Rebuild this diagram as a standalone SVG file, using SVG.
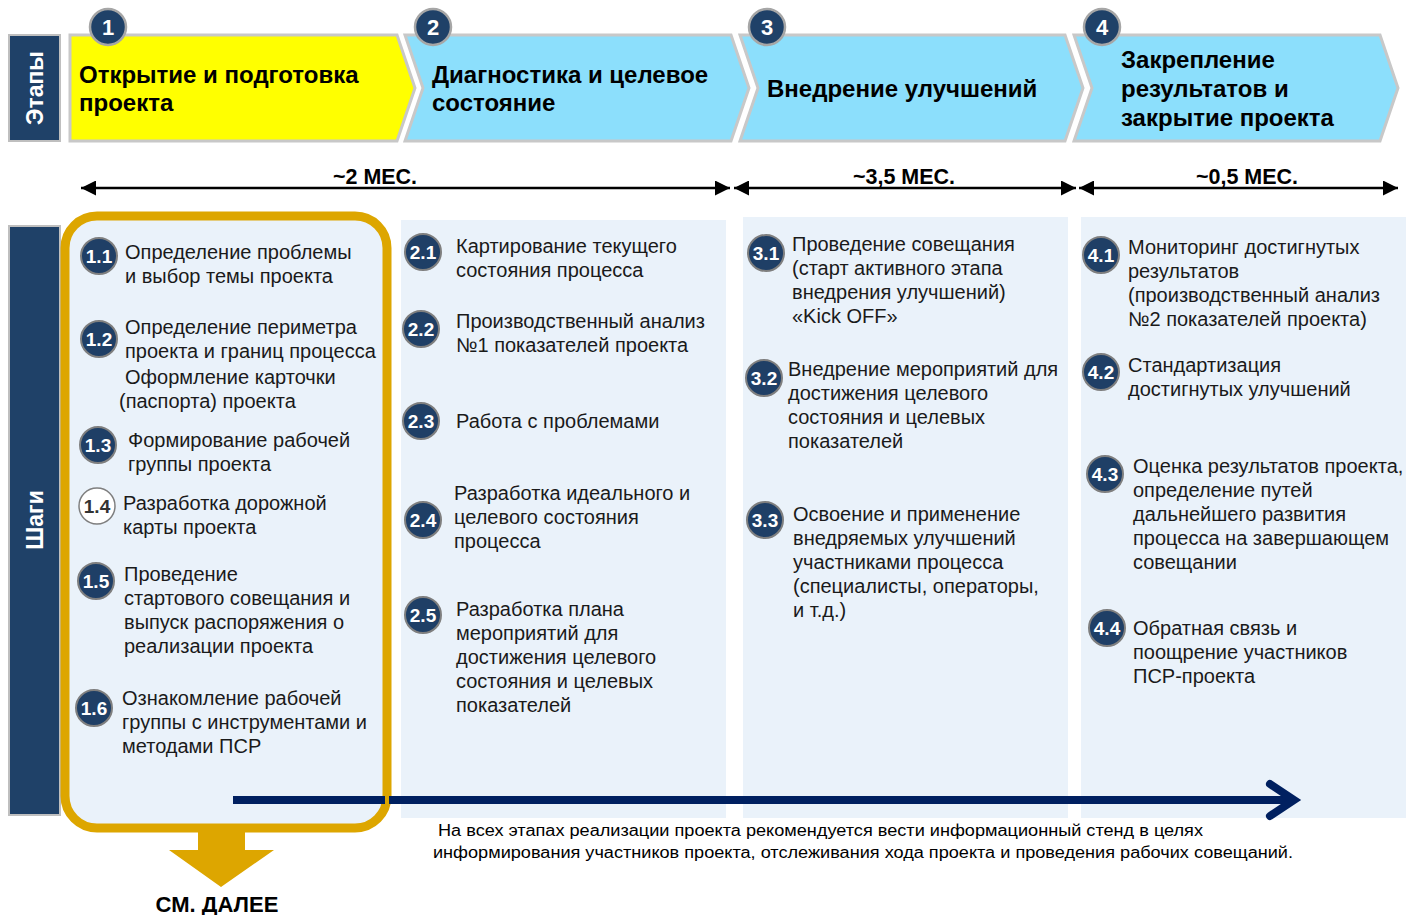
<svg xmlns="http://www.w3.org/2000/svg" width="1410" height="915" viewBox="0 0 1410 915">
<defs>
<style>
.lbl{fill:#1F4168;stroke:#BFBFBF;stroke-width:2}
.lt{font-family:"Liberation Sans",Arial,sans-serif;font-weight:bold;font-size:23px;fill:#fff}
.chev{stroke:#C8C8C8;stroke-width:3}
.num{fill:#1F4168;stroke:#A6A6A6;stroke-width:2.5}
.numt{font-family:"Liberation Sans",Arial,sans-serif;font-weight:bold;font-size:22px;fill:#fff;text-anchor:middle}
.st{font-family:"Liberation Sans",Arial,sans-serif;font-weight:bold;font-size:24px;fill:#000}
.dur{font-family:"Liberation Sans",Arial,sans-serif;font-weight:bold;font-size:22px;fill:#000;text-anchor:middle}
.col{fill:#EAF2FA}
.sc{fill:#1F3F66;stroke:#7F7F7F;stroke-width:2}
.sct{font-family:"Liberation Sans",Arial,sans-serif;font-weight:bold;font-size:19px;fill:#fff;text-anchor:middle}
.tx{font-family:"Liberation Sans",Arial,sans-serif;font-size:20px;fill:#1a1a1a}
.foot{font-family:"Liberation Sans",Arial,sans-serif;font-size:16px;fill:#000}
</style>
<marker id="ah" viewBox="0 0 10 10" refX="10" refY="5" markerWidth="6" markerHeight="6" orient="auto-start-reverse" markerUnits="strokeWidth">
<path d="M0,0 L10,5 L0,10 z" fill="#000"/>
</marker>
</defs>
<rect width="1410" height="915" fill="#fff"/>

<g id="label-etapy">
<rect class="lbl" x="9" y="35" width="51" height="106"/>
<text class="lt" transform="translate(43,88) rotate(-90)" text-anchor="middle">Этапы</text>
</g>
<g id="label-shagi">
<rect class="lbl" x="9" y="226" width="51" height="589"/>
<text class="lt" transform="translate(43,520) rotate(-90)" text-anchor="middle">Шаги</text>
</g>

<g id="columns">
<rect class="col" x="401" y="220" width="325" height="598"/>
<rect class="col" x="743" y="217" width="325" height="601"/>
<rect class="col" x="1081" y="217" width="325" height="601"/>
</g>

<g id="stage1">
<path class="chev" d="M70,35 L397,35 L415,88 L397,141 L70,141 Z" fill="#FFFF00"/>
<circle class="num" cx="108" cy="27" r="18"/>
<text class="numt" x="108" y="35">1</text>
<text class="st" x="79" y="83">Открытие и подготовка</text>
<text class="st" x="79" y="111">проекта</text>
</g>
<g id="stage2">
<path class="chev" d="M405,35 L731,35 L749,88 L731,141 L405,141 L423,88 Z" fill="#8CDFFC"/>
<circle class="num" cx="433" cy="27" r="18"/>
<text class="numt" x="433" y="35">2</text>
<text class="st" x="432" y="83">Диагностика и целевое</text>
<text class="st" x="432" y="111">состояние</text>
</g>
<g id="stage3">
<path class="chev" d="M740,35 L1065,35 L1083,88 L1065,141 L740,141 L758,88 Z" fill="#8CDFFC"/>
<circle class="num" cx="767" cy="27" r="18"/>
<text class="numt" x="767" y="35">3</text>
<text class="st" x="767" y="97">Внедрение улучшений</text>
</g>
<g id="stage4">
<path class="chev" d="M1074,35 L1380,35 L1398,88 L1380,141 L1074,141 L1092,88 Z" fill="#8CDFFC"/>
<circle class="num" cx="1102" cy="27" r="18"/>
<text class="numt" x="1102" y="35">4</text>
<text class="st" x="1121" y="68">Закрепление</text>
<text class="st" x="1121" y="97">результатов и</text>
<text class="st" x="1121" y="126">закрытие проекта</text>
</g>

<g id="connectors">
<line x1="81" y1="188" x2="730" y2="188" stroke="#000" stroke-width="2.5" marker-start="url(#ah)" marker-end="url(#ah)"/>
<line x1="734" y1="188" x2="1076" y2="188" stroke="#000" stroke-width="2.5" marker-start="url(#ah)" marker-end="url(#ah)"/>
<line x1="1079" y1="188" x2="1398" y2="188" stroke="#000" stroke-width="2.5" marker-start="url(#ah)" marker-end="url(#ah)"/>
</g>
<g id="durations">
<text class="dur" x="375" y="184" textLength="84" lengthAdjust="spacingAndGlyphs">~2 МЕС.</text>
<text class="dur" x="904" y="184" textLength="102" lengthAdjust="spacingAndGlyphs">~3,5 МЕС.</text>
<text class="dur" x="1247" y="184" textLength="102" lengthAdjust="spacingAndGlyphs">~0,5 МЕС.</text>
</g>

<g id="phase1-frame">
<rect x="65" y="216" width="322" height="612" rx="32" fill="#EAF2FA" stroke="#DDA600" stroke-width="9"/>
</g>

<g id="main-arrow">
<line x1="233" y1="800" x2="1292" y2="800" stroke="#002060" stroke-width="8"/>
<path d="M1270,784 L1294,800 L1270,816" fill="none" stroke="#002060" stroke-width="8" stroke-linecap="round" stroke-linejoin="miter"/>
</g>
<rect x="385" y="795" width="4" height="10" fill="#DDA600"/>

<g id="see-next">
<path d="M198,832 L245,832 L245,850 L274,850 L221,887 L169,850 L198,850 Z" fill="#DDA600"/>
<text x="217" y="912" font-family="'Liberation Sans',Arial,sans-serif" font-weight="bold" font-size="22" text-anchor="middle" fill="#000">СМ. ДАЛЕЕ</text>
</g>

<g id="step-1-1"><circle class="sc" cx="99" cy="256" r="18"/><text class="sct" x="99" y="263">1.1</text>
<text class="tx" x="125" y="259">Определение проблемы</text><text class="tx" x="125" y="283">и выбор темы проекта</text></g>
<g id="step-1-2"><circle class="sc" cx="99" cy="339" r="18"/><text class="sct" x="99" y="346">1.2</text>
<text class="tx" x="125" y="334">Определение периметра</text><text class="tx" x="125" y="358">проекта и границ процесса</text>
<text class="tx" x="125" y="384">Оформление карточки</text><text class="tx" x="119" y="408">(паспорта) проекта</text></g>
<g id="step-1-3"><circle class="sc" cx="98" cy="445" r="18"/><text class="sct" x="98" y="452">1.3</text>
<text class="tx" x="128" y="447">Формирование рабочей</text><text class="tx" x="128" y="471">группы проекта</text></g>
<g id="step-1-4"><circle cx="97" cy="506" r="18" fill="#fff" stroke="#7F7F7F" stroke-width="1.5"/><text class="sct" x="97" y="513" style="fill:#333">1.4</text>
<text class="tx" x="123" y="510">Разработка дорожной</text><text class="tx" x="123" y="534">карты проекта</text></g>
<g id="step-1-5"><circle class="sc" cx="96" cy="581" r="18"/><text class="sct" x="96" y="588">1.5</text>
<text class="tx" x="124" y="581">Проведение</text><text class="tx" x="124" y="605">стартового совещания и</text>
<text class="tx" x="124" y="629">выпуск распоряжения о</text><text class="tx" x="124" y="653">реализации проекта</text></g>
<g id="step-1-6"><circle class="sc" cx="94" cy="708" r="18"/><text class="sct" x="94" y="715">1.6</text>
<text class="tx" x="122" y="705">Ознакомление рабочей</text><text class="tx" x="122" y="729">группы с инструментами и</text>
<text class="tx" x="122" y="753">методами ПСР</text></g>

<g id="step-2-1"><circle class="sc" cx="423" cy="252" r="18"/><text class="sct" x="423" y="259">2.1</text>
<text class="tx" x="456" y="253">Картирование текущего</text><text class="tx" x="456" y="277">состояния процесса</text></g>
<g id="step-2-2"><circle class="sc" cx="421" cy="329" r="18"/><text class="sct" x="421" y="336">2.2</text>
<text class="tx" x="456" y="328">Производственный анализ</text><text class="tx" x="456" y="352">№1 показателей проекта</text></g>
<g id="step-2-3"><circle class="sc" cx="421" cy="421" r="18"/><text class="sct" x="421" y="428">2.3</text>
<text class="tx" x="456" y="428">Работа с проблемами</text></g>
<g id="step-2-4"><circle class="sc" cx="423" cy="520" r="18"/><text class="sct" x="423" y="527">2.4</text>
<text class="tx" x="454" y="500">Разработка идеального и</text><text class="tx" x="454" y="524">целевого состояния</text>
<text class="tx" x="454" y="548">процесса</text></g>
<g id="step-2-5"><circle class="sc" cx="423" cy="615" r="18"/><text class="sct" x="423" y="622">2.5</text>
<text class="tx" x="456" y="616">Разработка плана</text><text class="tx" x="456" y="640">мероприятий для</text>
<text class="tx" x="456" y="664">достижения целевого</text><text class="tx" x="456" y="688">состояния и целевых</text>
<text class="tx" x="456" y="712">показателей</text></g>

<g id="step-3-1"><circle class="sc" cx="766" cy="253" r="18"/><text class="sct" x="766" y="260">3.1</text>
<text class="tx" x="792" y="251">Проведение совещания</text><text class="tx" x="792" y="275">(старт активного этапа</text>
<text class="tx" x="792" y="299">внедрения улучшений)</text><text class="tx" x="792" y="323">«Kick OFF»</text></g>
<g id="step-3-2"><circle class="sc" cx="764" cy="378" r="18"/><text class="sct" x="764" y="385">3.2</text>
<text class="tx" x="788" y="376">Внедрение мероприятий для</text><text class="tx" x="788" y="400">достижения целевого</text>
<text class="tx" x="788" y="424">состояния и целевых</text><text class="tx" x="788" y="448">показателей</text></g>
<g id="step-3-3"><circle class="sc" cx="765" cy="520" r="18"/><text class="sct" x="765" y="527">3.3</text>
<text class="tx" x="793" y="521">Освоение и применение</text><text class="tx" x="793" y="545">внедряемых улучшений</text>
<text class="tx" x="793" y="569">участниками процесса</text><text class="tx" x="793" y="593">(специалисты, операторы,</text>
<text class="tx" x="793" y="617">и т.д.)</text></g>

<g id="step-4-1"><circle class="sc" cx="1101" cy="255" r="18"/><text class="sct" x="1101" y="262">4.1</text>
<text class="tx" x="1128" y="254">Мониторинг достигнутых</text><text class="tx" x="1128" y="278">результатов</text>
<text class="tx" x="1128" y="302">(производственный анализ</text><text class="tx" x="1128" y="326">№2 показателей проекта)</text></g>
<g id="step-4-2"><circle class="sc" cx="1101" cy="372" r="18"/><text class="sct" x="1101" y="379">4.2</text>
<text class="tx" x="1128" y="372">Стандартизация</text><text class="tx" x="1128" y="396">достигнутых улучшений</text></g>
<g id="step-4-3"><circle class="sc" cx="1105" cy="474" r="18"/><text class="sct" x="1105" y="481">4.3</text>
<text class="tx" x="1133" y="473">Оценка результатов проекта,</text><text class="tx" x="1133" y="497">определение путей</text>
<text class="tx" x="1133" y="521">дальнейшего развития</text><text class="tx" x="1133" y="545">процесса на завершающем</text>
<text class="tx" x="1133" y="569">совещании</text></g>
<g id="step-4-4"><circle class="sc" cx="1107" cy="628" r="18"/><text class="sct" x="1107" y="635">4.4</text>
<text class="tx" x="1133" y="635">Обратная связь и</text><text class="tx" x="1133" y="659">поощрение участников</text>
<text class="tx" x="1133" y="683">ПСР-проекта</text></g>

<g id="footnote">
<text class="foot" x="438" y="836" textLength="765" lengthAdjust="spacingAndGlyphs">На всех этапах реализации проекта рекомендуется вести информационный стенд в целях</text>
<text class="foot" x="433" y="858" textLength="860" lengthAdjust="spacingAndGlyphs">информирования участников проекта, отслеживания хода проекта и проведения рабочих совещаний.</text>
</g>
</svg>
